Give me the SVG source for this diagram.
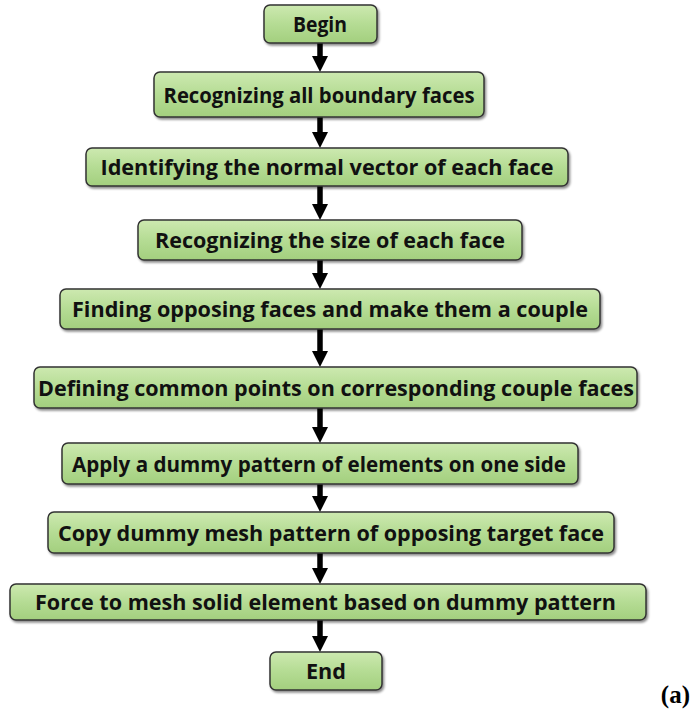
<svg xmlns="http://www.w3.org/2000/svg" width="691" height="712" viewBox="0 0 691 712">
<defs>
<linearGradient id="g" x1="0" y1="0" x2="0" y2="1">
<stop offset="0" stop-color="#cde9b0"/>
<stop offset="0.5" stop-color="#b5dc94"/>
<stop offset="1" stop-color="#a3cf7e"/>
</linearGradient>
<filter id="sh" x="-5%" y="-20%" width="110%" height="150%">
<feDropShadow dx="1.5" dy="2" stdDeviation="1.2" flood-color="#000" flood-opacity="0.45"/>
</filter>
<marker id="ah" markerWidth="16" markerHeight="16" refX="8" refY="8" orient="auto" markerUnits="userSpaceOnUse">
<path d="M0,0 L16,8 L0,16 Z" fill="#000"/>
</marker>
</defs>
<style>
.box{fill:url(#g);stroke:#333;stroke-width:1.5;filter:url(#sh)}
.t{font-family:"Open Sans","Noto Sans","Liberation Sans",sans-serif;font-weight:700;font-size:22px;fill:#111;text-anchor:middle}
.c{stroke:#000;stroke-width:5.5;fill:none;marker-end:url(#ah)}
</style>
<g id="connectors">
<line class="c" x1="320" y1="43" x2="320" y2="64"/>
<line class="c" x1="320" y1="117" x2="320" y2="140"/>
<line class="c" x1="320" y1="186" x2="320" y2="212"/>
<line class="c" x1="320" y1="260" x2="320" y2="281"/>
<line class="c" x1="320" y1="329" x2="320" y2="359"/>
<line class="c" x1="320" y1="408" x2="320" y2="435"/>
<line class="c" x1="320" y1="484" x2="320" y2="504"/>
<line class="c" x1="320" y1="553" x2="320" y2="576"/>
<line class="c" x1="320" y1="620" x2="320" y2="644"/>
</g>
<g id="n1"><rect class="box" x="264" y="5" width="113" height="38" rx="6"/><text class="t" x="320" y="32" textLength="54" lengthAdjust="spacingAndGlyphs">Begin</text></g>
<g id="n2"><rect class="box" x="154" y="72" width="330" height="45" rx="6"/><text class="t" x="319" y="102.5" textLength="311" lengthAdjust="spacingAndGlyphs">Recognizing all boundary faces</text></g>
<g id="n3"><rect class="box" x="86" y="148" width="482" height="38" rx="6"/><text class="t" x="327" y="175" textLength="453" lengthAdjust="spacingAndGlyphs">Identifying the normal vector of each face</text></g>
<g id="n4"><rect class="box" x="138" y="220" width="384" height="40" rx="6"/><text class="t" x="330" y="248" textLength="350" lengthAdjust="spacingAndGlyphs">Recognizing the size of each face</text></g>
<g id="n5"><rect class="box" x="60" y="289" width="540" height="40" rx="6"/><text class="t" x="330" y="317" textLength="516" lengthAdjust="spacingAndGlyphs">Finding opposing faces and make them a couple</text></g>
<g id="n6"><rect class="box" x="34" y="367" width="603" height="41" rx="6"/><text class="t" x="336" y="395.5" textLength="596" lengthAdjust="spacingAndGlyphs">Defining common points on corresponding couple faces</text></g>
<g id="n7"><rect class="box" x="62" y="443" width="516" height="41" rx="6"/><text class="t" x="319" y="471.5" textLength="494" lengthAdjust="spacingAndGlyphs">Apply a dummy pattern of elements on one side</text></g>
<g id="n8"><rect class="box" x="48" y="512" width="566" height="41" rx="6"/><text class="t" x="331" y="540.5" textLength="546" lengthAdjust="spacingAndGlyphs">Copy dummy mesh pattern of opposing target face</text></g>
<g id="n9"><rect class="box" x="10" y="584" width="636" height="36" rx="6"/><text class="t" x="325.5" y="610" textLength="581" lengthAdjust="spacingAndGlyphs">Force to mesh solid element based on dummy pattern</text></g>
<g id="n10"><rect class="box" x="270" y="652" width="112" height="38" rx="6"/><text class="t" x="326" y="679" textLength="40" lengthAdjust="spacingAndGlyphs">End</text></g>
<text x="690" y="703" font-family="Liberation Serif,serif" font-weight="700" font-size="25" text-anchor="end" fill="#000">(a)</text>
</svg>
